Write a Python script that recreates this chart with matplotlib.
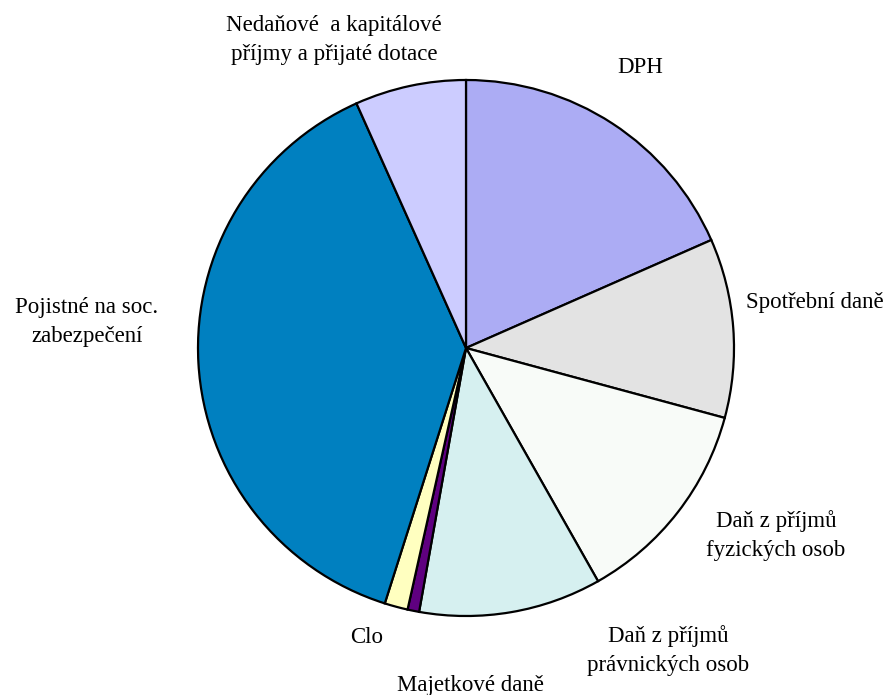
import matplotlib
matplotlib.use("Agg")
import matplotlib.pyplot as plt

labels = ["DPH", "Spotřební daně", "Daň z příjmů\nfyzických osob",
          "Daň z příjmů\nprávnických osob", "Majetkové daně", "Clo",
          "Pojistné na soc.\nzabezpečení", "Nedaňové  a kapitálové\npříjmy a přijaté dotace"]
values = [18.4, 10.8, 12.6, 11.0, 0.7, 1.4, 38.4, 6.7]
colors = ["#acacf4", "#e3e3e3", "#f8fbf8", "#d6f0f0", "#5f0080", "#ffffc0", "#0080c0", "#ccccff"]

# label anchor positions (data units, pie radius = 1)
label_pos = [(0.649, 1.045), (1.30, 0.168), (1.157, -0.698), (0.754, -1.127),
             (0.015, -1.261), (-0.369, -1.082), (-1.414, 0.097), (-0.4925, 1.149)]

fig = plt.figure(figsize=(8.88, 6.95), dpi=100)
ax = fig.add_axes([0, 0, 1, 1])
ax.pie(values, colors=colors, startangle=90, counterclock=False, radius=1,
       wedgeprops=dict(edgecolor="black", linewidth=1.6))
ax.set_xlim(-466/268, (888-466)/268)
ax.set_ylim((348-695)/268, 348/268)
ax.set_aspect("auto")
ax.axis("off")

for lab, (x, y) in zip(labels, label_pos):
    ax.text(x, y, lab, ha="center", va="center", fontsize=16.5,
            family="Liberation Serif", linespacing=1.5)

fig.savefig("out.png", dpi=100)
